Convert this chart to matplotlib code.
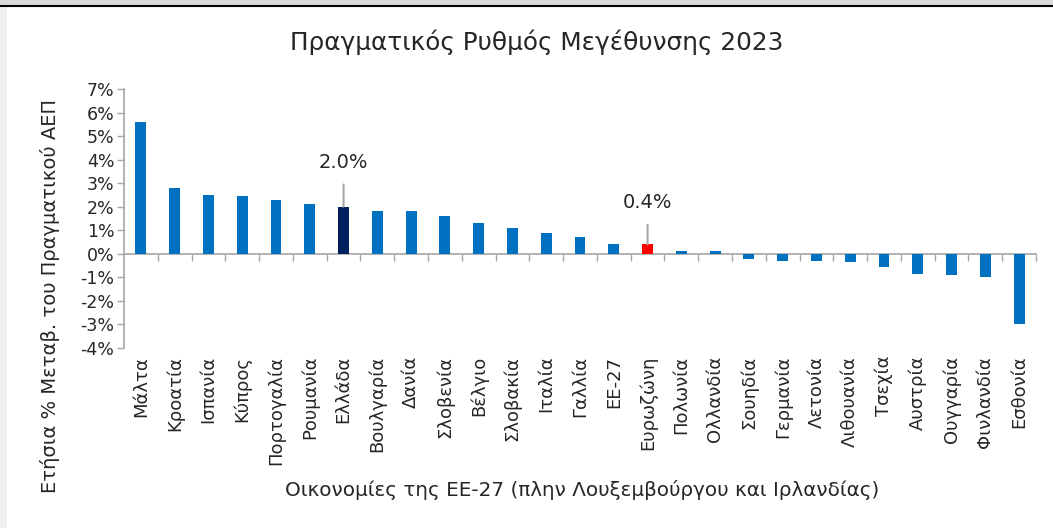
import matplotlib
matplotlib.use("Agg")
import matplotlib.pyplot as plt
from matplotlib.transforms import blended_transform_factory
from matplotlib.patches import Rectangle
from matplotlib.lines import Line2D

countries = ["Μάλτα", "Κροατία", "Ισπανία", "Κύπρος", "Πορτογαλία", "Ρουμανία",
             "Ελλάδα", "Βουλγαρία", "Δανία", "Σλοβενία", "Βέλγιο", "Σλοβακία",
             "Ιταλία", "Γαλλία", "ΕΕ-27", "Ευρωζώνη", "Πολωνία", "Ολλανδία",
             "Σουηδία", "Γερμανία", "Λετονία", "Λιθουανία", "Τσεχία", "Αυστρία",
             "Ουγγαρία", "Φινλανδία", "Εσθονία"]
growth = [5.6, 2.8, 2.5, 2.45, 2.3, 2.1, 2.0, 1.8, 1.8, 1.6, 1.3, 1.1,
          0.9, 0.7, 0.4, 0.4, 0.1, 0.1, -0.2, -0.3, -0.3, -0.35, -0.55, -0.85,
          -0.9, -1.0, -3.0]
highlight = {"Ελλάδα": "#002060", "Ευρωζώνη": "#FF0000"}
annotations = {"Ελλάδα": "2.0%", "Ευρωζώνη": "0.4%"}
yticks = list(range(-4, 8))

title = "Πραγματικός Ρυθμός Μεγέθυνσης 2023"
ylabel = "Ετήσια % Μεταβ. του Πραγματικού ΑΕΠ"
xlabel = "Οικονομίες της ΕΕ-27 (πλην Λουξεμβούργου και Ιρλανδίας)"

plt.rcParams['font.family'] = ['DejaVu Sans']
text_col = "#262626"
axis_col = "#A6A6A6"

fig = plt.figure(figsize=(10.53, 5.28), dpi=100)
fig.patch.set_facecolor("white")
# frame decorations of the screenshot
fig.patches.append(Rectangle((0, 0), 7/1053, 1, transform=fig.transFigure,
                             facecolor="#F0F0F0", edgecolor="none", zorder=0))
fig.patches.append(Rectangle((0, 1-5/528), 1, 5/528, transform=fig.transFigure,
                             facecolor="#D9D9D9", edgecolor="none", zorder=0))
fig.lines.append(Line2D([0, 1], [1-5.5/528, 1-5.5/528], transform=fig.transFigure,
                        color="black", lw=1.5))

ax = fig.add_axes([124/1053, 1-348/528, (1036-124)/1053, (348-89)/528])
x = list(range(len(countries)))
colors = [highlight.get(c, "#0070C0") for c in countries]
ax.bar(x, growth, width=0.32, color=colors, zorder=3)

ax.set_xlim(-0.5, len(countries) - 0.5)
ax.set_ylim(-4, 7)
ax.set_yticks(yticks)
ax.set_yticklabels([f"{v}%" for v in yticks], fontsize=12.5, color=text_col)
ax.tick_params(axis='y', direction='out', length=5, color=axis_col, width=1, pad=2)

for s in ["top", "right"]:
    ax.spines[s].set_visible(False)
ax.spines["left"].set_color(axis_col)
ax.spines["left"].set_linewidth(1.2)
ax.spines["bottom"].set_position(("data", 0))
ax.spines["bottom"].set_color(axis_col)
ax.spines["bottom"].set_linewidth(1.2)
ax.set_xticks([i + 0.5 for i in range(len(countries))])
ax.set_xticklabels([])
ax.tick_params(axis='x', direction='out', length=5, color=axis_col, width=1)

trans = blended_transform_factory(ax.transData, ax.transAxes)
for i, c in enumerate(countries):
    ax.text(i, -0.03, c, rotation=90, ha="center", va="top", transform=trans,
            fontsize=13, color=text_col)

offsets = {"Ελλάδα": 25, "Ευρωζώνη": 23}
for c, lab in annotations.items():
    i = countries.index(c)
    v = growth[i]
    ax.annotate(lab, xy=(i, v), xytext=(0, offsets[c]), textcoords="offset points",
                ha="center", va="bottom", fontsize=14, color=text_col,
                arrowprops=dict(arrowstyle="-", color=axis_col, lw=1.5,
                                shrinkA=7, shrinkB=0))

fig.text(537/1053, 1-42/528, title, ha="center", va="center", fontsize=17.8, color=text_col)
fig.text(50/1053, 1-296/528, ylabel, rotation=90, ha="center", va="center",
         fontsize=14, color=text_col)
fig.text(582/1053, 1-490/528, xlabel, ha="center", va="center", fontsize=14.3,
         color=text_col)

fig.savefig("out.png", dpi=100)
